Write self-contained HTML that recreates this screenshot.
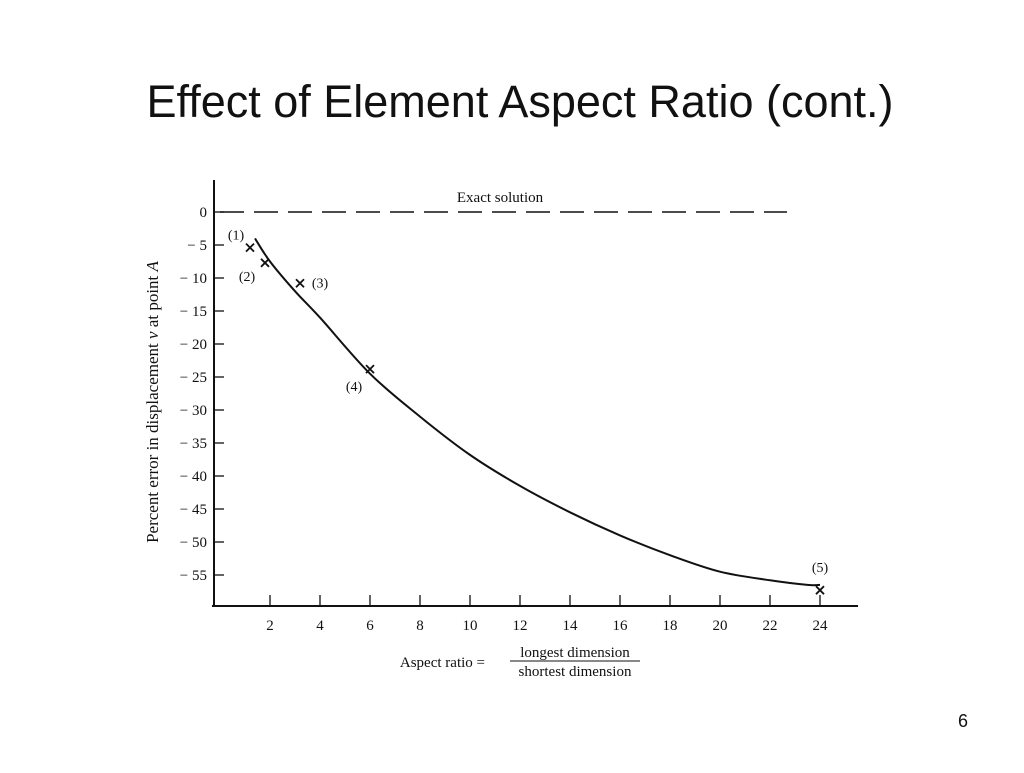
<!DOCTYPE html>
<html><head><meta charset="utf-8"><style>
body{margin:0;background:#fff;width:1024px;height:768px;overflow:hidden;font-family:"Liberation Sans",sans-serif}
svg text{font-family:"Liberation Serif",serif;fill:#111}
</style></head><body>
<svg width="1024" height="768">
<text x="520" y="117" text-anchor="middle" style="font-family:'Liberation Sans',sans-serif;font-size:45px">Effect of Element Aspect Ratio (cont.)</text>
<text x="963" y="727" text-anchor="middle" style="font-family:'Liberation Sans',sans-serif;font-size:18px">6</text>
<g id="chart"></g>
</svg>
<script>
const xTicks=[2,4,6,8,10,12,14,16,18,20,22,24];
const yTicks=[0,-5,-10,-15,-20,-25,-30,-35,-40,-45,-50,-55];
const curveX=[1.4,2,3,4,6,8,10,12,14,16,18,20,22,23.5,24];
const curveY=[-4,-7.5,-12,-16,-24.5,-31,-36.8,-41.5,-45.5,-49,-52,-54.5,-55.8,-56.5,-56.5];
const ptX=[1.2,1.8,3.2,6,24];
const ptY=[-5.4,-7.7,-10.8,-23.8,-57.3];
const ptLabels=["(1)","(2)","(3)","(4)","(5)"];
const NS="http://www.w3.org/2000/svg";
const g=document.getElementById('chart');
const X=v=>220+25*v, Y=v=>212-6.6*v;
function mk(t,a,txt){const e=document.createElementNS(NS,t);for(const k in a)e.setAttribute(k,a[k]);if(txt!==undefined)e.textContent=txt;g.appendChild(e);return e;}
let e;
e=mk('line',{x1:214,y1:180,x2:214,y2:607,stroke:'#111','stroke-width':2});


e=mk('line',{x1:212,y1:606,x2:858,y2:606,stroke:'#111','stroke-width':2});


xTicks.forEach(v=>{
 e=mk('line',{x1:X(v),y1:606,x2:X(v),y2:595,stroke:'#111','stroke-width':1.3});
 
 
 e=mk('text',{x:X(v),y:630,'text-anchor':'middle','font-size':15},v);
 
 
});
yTicks.forEach(v=>{
 e=mk('line',{x1:214,y1:Y(v),x2:224,y2:Y(v),stroke:'#111','stroke-width':1.3});
 
 
 e=mk('text',{x:207,y:Y(v)+5,'text-anchor':'end','font-size':15},v===0?'0':'\u2212 '+(-v));
 
 
});
e=mk('line',{x1:X(0),y1:Y(0),x2:787,y2:Y(0),stroke:'#111','stroke-width':1.5,'stroke-dasharray':'24,10'});


e=mk('text',{x:500,y:202,'text-anchor':'middle','font-size':15},'Exact solution');


// smooth curve via Catmull-Rom
const P=curveX.map((v,i)=>[X(v),Y(curveY[i])]);
let d='M'+P[0][0]+','+P[0][1];
for(let i=0;i<P.length-1;i++){
 const p0=P[Math.max(0,i-1)],p1=P[i],p2=P[i+1],p3=P[Math.min(P.length-1,i+2)];
 const c1=[p1[0]+(p2[0]-p0[0])/6,p1[1]+(p2[1]-p0[1])/6];
 const c2=[p2[0]-(p3[0]-p1[0])/6,p2[1]-(p3[1]-p1[1])/6];
 d+=`C${c1[0]},${c1[1]} ${c2[0]},${c2[1]} ${p2[0]},${p2[1]}`;
}
e=mk('path',{d:d,fill:'none',stroke:'#111','stroke-width':2});


const offs=[[-14,-12],[-18,14],[20,0],[-16,18],[0,-22]];
ptX.forEach((v,i)=>{
 const cx=X(v),cy=Y(ptY[i]);
 e=mk('path',{d:`M${cx-4},${cy-4}L${cx+4},${cy+4}M${cx+4},${cy-4}L${cx-4},${cy+4}`,stroke:'#111','stroke-width':1.8});
 
 
 e=mk('text',{x:cx+offs[i][0],y:cy+offs[i][1]+4,'text-anchor':'middle','font-size':14},ptLabels[i]);
 
 
});
e=mk('text',{x:158,y:402,'text-anchor':'middle','font-size':17,transform:'rotate(-90 158 402)'},'');


e.innerHTML='Percent error in displacement <tspan font-style="italic">v</tspan> at point <tspan font-style="italic">A</tspan>';
e=mk('text',{x:485,y:667,'text-anchor':'end','font-size':15},'Aspect ratio =');


e=mk('text',{x:575,y:657,'text-anchor':'middle','font-size':15},'longest dimension');


e=mk('line',{x1:510,y1:661,x2:640,y2:661,stroke:'#111','stroke-width':1});


e=mk('text',{x:575,y:676,'text-anchor':'middle','font-size':15},'shortest dimension');


</script>
</body></html>
